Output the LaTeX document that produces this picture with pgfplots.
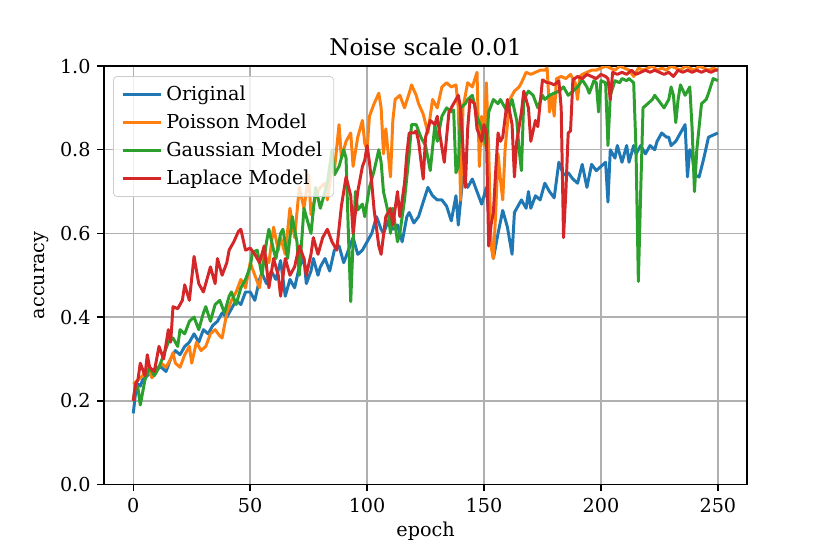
\documentclass[border=0pt]{standalone}
\usepackage{pgfplots}
\pgfplotsset{compat=1.18}
\usepackage{fontspec}
\setmainfont{DejaVu Serif}
\definecolor{c0}{HTML}{1F77B4}
\definecolor{c1}{HTML}{FF7F0E}
\definecolor{c2}{HTML}{2CA02C}
\definecolor{c3}{HTML}{D62728}
\definecolor{gridc}{HTML}{B0B0B0}
\begin{document}
\begin{tikzpicture}
\useasboundingbox (-54.2pt,-35.9pt) rectangle (378.2pt,252.4pt);
\begin{axis}[
  scale only axis, width=335pt, height=218pt,
  xmin=-12.5, xmax=262.5, ymin=0, ymax=1,
  xtick={0,50,100,150,200,250},
  ytick={0,0.2,0.4,0.6,0.8,1.0},
  yticklabel style={/pgf/number format/.cd,fixed,fixed zerofill,precision=1},
  /pgf/number format/assume math mode=true,
  tick pos=left, tick align=outside, major tick length=3.5pt,
  every tick/.style={black, line width=0.8pt},
  axis line style={line width=0.8pt},
  grid=major, major grid style={gridc, line width=0.8pt},
  title={Noise scale 0.01}, title style={font=\large, yshift=-4pt},
  xlabel={epoch}, ylabel={accuracy},
  xlabel style={yshift=2pt}, ylabel style={yshift=-1pt},
  legend style={at={(0.014,0.976)}, anchor=north west, draw=black!20, rounded corners=2pt, fill=white, fill opacity=0.8, text opacity=1, inner xsep=4pt, inner ysep=3pt, row sep=1.4pt, font=\normalsize},
  legend cell align=left,
  legend image code/.code={\draw[#1] (0pt,0pt) -- (20pt,0pt);},
  every axis plot/.append style={line width=1.55pt, line join=round},
]
\addplot[c0] coordinates {
(0,0.17)(1,0.22)(2,0.24)(3,0.235)(4,0.25)(6,0.26)(8,0.27)(10,0.28)(12,0.28)(14,0.27)(16,0.30)(18,0.32)(20,0.31)(22,0.33)(24,0.34)(26,0.36)(28,0.34)(30,0.37)(32,0.36)(34,0.38)(36,0.39)(38,0.41)(40,0.40)(42,0.42)(44,0.44)(46,0.43)(48,0.46)(50,0.46)(52,0.44)(54,0.49)(55,0.505)(57,0.48)(59,0.51)(61,0.49)(63,0.535)(65,0.45)(67,0.49)(69,0.47)(71,0.52)(73,0.54)(74,0.48)(76,0.51)(77,0.54)(79,0.50)(80,0.52)(82,0.54)(84,0.51)(86,0.56)(88,0.57)(90,0.53)(92,0.56)(94,0.59)(96,0.55)(98,0.56)(100,0.58)(102,0.60)(104,0.64)(106,0.61)(107,0.60)(109,0.63)(111,0.61)(113,0.62)(115,0.58)(117,0.64)(118,0.65)(120,0.625)(122,0.64)(124,0.675)(126,0.71)(128,0.69)(130,0.68)(132,0.68)(134,0.665)(136,0.63)(137,0.66)(138,0.69)(139,0.62)(140,0.68)(141,0.735)(143,0.71)(145,0.73)(147,0.70)(149,0.67)(151,0.71)(153,0.58)(154,0.54)(156,0.60)(158,0.655)(160,0.615)(162,0.55)(163,0.65)(165,0.67)(166,0.68)(168,0.66)(169,0.70)(170,0.66)(172,0.69)(174,0.68)(176,0.72)(178,0.70)(180,0.685)(182,0.77)(184,0.74)(186,0.745)(188,0.73)(190,0.72)(192,0.765)(194,0.71)(196,0.765)(198,0.75)(200,0.76)(202,0.77)(203,0.675)(204,0.80)(206,0.78)(207,0.81)(209,0.77)(211,0.81)(212,0.77)(214,0.81)(215,0.79)(217,0.81)(219,0.79)(221,0.81)(223,0.80)(224,0.82)(226,0.84)(228,0.83)(229,0.83)(230,0.81)(232,0.82)(234,0.84)(236,0.86)(237,0.735)(238,0.80)(239,0.79)(240,0.74)(242,0.735)(244,0.78)(246,0.83)(248,0.835)(250,0.84)
};
\addlegendentry{Original}
\addplot[c1] coordinates {
(0,0.24)(1,0.245)(2,0.25)(4,0.26)(6,0.28)(8,0.255)(10,0.27)(12,0.29)(14,0.28)(16,0.30)(17,0.315)(18,0.29)(20,0.28)(22,0.31)(24,0.33)(25,0.29)(27,0.34)(29,0.32)(31,0.33)(33,0.36)(35,0.37)(37,0.355)(38,0.35)(40,0.41)(42,0.44)(44,0.46)(46,0.49)(48,0.47)(50,0.53)(52,0.50)(54,0.47)(56,0.55)(58,0.53)(60,0.615)(62,0.56)(63,0.59)(65,0.55)(67,0.66)(69,0.59)(71,0.71)(73,0.66)(75,0.74)(76,0.645)(78,0.69)(80,0.71)(82,0.72)(83,0.68)(85,0.76)(86,0.75)(88,0.86)(89,0.78)(90,0.80)(91,0.82)(93,0.84)(94,0.76)(96,0.83)(98,0.87)(99,0.815)(100,0.80)(101,0.88)(103,0.91)(105,0.935)(106,0.90)(107,0.79)(108,0.85)(110,0.735)(111,0.87)(112,0.92)(114,0.93)(116,0.90)(118,0.935)(119,0.955)(121,0.93)(122,0.91)(124,0.885)(126,0.84)(128,0.92)(130,0.90)(132,0.95)(134,0.96)(136,0.95)(138,0.955)(139,0.90)(140,0.68)(141,0.90)(143,0.96)(145,0.95)(147,0.985)(148,0.76)(149,0.88)(150,0.81)(151,0.96)(152,0.80)(153,0.57)(154,0.54)(155,0.65)(156,0.79)(157,0.73)(158,0.68)(159,0.80)(161,0.92)(163,0.94)(165,0.95)(166,0.96)(168,0.985)(170,0.98)(172,0.985)(174,0.99)(176,0.99)(177,0.995)(178,0.89)(179,0.93)(180,0.88)(181,0.97)(183,0.975)(185,0.97)(187,0.98)(189,0.96)(190,0.92)(191,0.975)(192,0.98)(194,0.985)(196,0.99)(198,0.99)(200,0.995)(202,1.0)(204,0.995)(206,0.99)(208,1.0)(210,0.995)(212,0.99)(214,0.975)(216,0.995)(218,0.99)(220,0.995)(222,1.0)(224,0.99)(226,0.995)(228,0.99)(230,1.0)(232,0.995)(234,0.99)(236,1.0)(238,0.995)(240,0.99)(242,1.0)(244,0.995)(246,0.99)(248,0.995)(250,0.99)
};
\addlegendentry{Poisson Model}
\addplot[c2] coordinates {
(0,0.20)(1,0.24)(2,0.23)(3,0.19)(4,0.22)(5,0.25)(7,0.28)(9,0.26)(11,0.28)(13,0.31)(15,0.34)(17,0.35)(19,0.33)(20,0.37)(22,0.36)(24,0.39)(26,0.40)(28,0.37)(30,0.41)(31,0.425)(33,0.39)(35,0.43)(37,0.44)(39,0.41)(41,0.45)(42,0.46)(44,0.43)(46,0.47)(48,0.49)(50,0.52)(51,0.555)(53,0.56)(55,0.50)(57,0.58)(58,0.61)(60,0.56)(61,0.54)(63,0.60)(64,0.61)(66,0.54)(68,0.64)(70,0.58)(71,0.50)(73,0.66)(75,0.62)(76,0.60)(78,0.71)(80,0.66)(82,0.70)(83,0.72)(85,0.80)(86,0.74)(88,0.76)(90,0.80)(91,0.78)(92,0.60)(93,0.437)(94,0.58)(95,0.70)(96,0.656)(98,0.67)(99,0.64)(101,0.71)(103,0.75)(105,0.80)(106,0.77)(107,0.70)(109,0.65)(110,0.60)(111,0.66)(113,0.58)(114,0.60)(116,0.68)(118,0.79)(119,0.86)(121,0.86)(123,0.83)(125,0.81)(127,0.75)(129,0.86)(130,0.82)(132,0.88)(134,0.90)(136,0.89)(137,0.895)(138,0.745)(139,0.76)(140,0.90)(142,0.91)(143,0.92)(145,0.93)(147,0.88)(149,0.85)(151,0.81)(152,0.89)(154,0.92)(156,0.91)(157,0.92)(159,0.90)(160,0.89)(162,0.92)(164,0.87)(165,0.80)(166,0.75)(167,0.92)(169,0.94)(171,0.93)(173,0.90)(175,0.93)(176,0.92)(178,0.93)(180,0.935)(182,0.94)(184,0.95)(186,0.93)(188,0.94)(190,0.95)(192,0.967)(194,0.95)(195,0.935)(197,0.965)(198,0.96)(199,0.89)(200,0.965)(202,0.96)(203,0.81)(204,0.93)(206,0.965)(208,0.96)(209,0.97)(211,0.965)(212,0.97)(214,0.96)(215,0.80)(216,0.485)(217,0.70)(218,0.90)(220,0.91)(222,0.92)(223,0.93)(225,0.915)(227,0.90)(229,0.92)(230,0.95)(231,0.93)(232,0.865)(233,0.92)(234,0.955)(236,0.93)(238,0.95)(239,0.85)(240,0.70)(241,0.80)(243,0.91)(245,0.92)(246,0.935)(248,0.97)(250,0.965)
};
\addlegendentry{Gaussian Model}
\addplot[c3] coordinates {
(0,0.20)(1,0.24)(2,0.25)(3,0.29)(5,0.26)(6,0.31)(7,0.28)(9,0.27)(11,0.33)(13,0.30)(15,0.37)(16,0.34)(17,0.425)(19,0.42)(21,0.44)(22,0.477)(24,0.44)(26,0.545)(28,0.48)(30,0.46)(32,0.50)(33,0.52)(35,0.48)(36,0.54)(38,0.50)(40,0.53)(41,0.56)(43,0.58)(45,0.605)(46,0.61)(48,0.56)(50,0.565)(52,0.55)(54,0.53)(56,0.57)(58,0.47)(60,0.54)(62,0.50)(63,0.45)(65,0.54)(67,0.50)(69,0.52)(71,0.57)(73,0.54)(74,0.50)(76,0.55)(77,0.59)(79,0.55)(81,0.59)(83,0.61)(85,0.58)(87,0.56)(89,0.665)(91,0.735)(93,0.69)(94,0.60)(96,0.70)(98,0.76)(99,0.775)(100,0.81)(101,0.77)(102,0.72)(103,0.656)(105,0.57)(106,0.55)(108,0.64)(110,0.66)(111,0.62)(113,0.70)(114,0.64)(116,0.72)(117,0.79)(118,0.84)(120,0.84)(121,0.845)(122,0.82)(124,0.73)(125,0.83)(127,0.87)(129,0.86)(130,0.88)(131,0.84)(133,0.77)(135,0.89)(137,0.91)(139,0.93)(140,0.90)(142,0.71)(143,0.85)(144,0.92)(146,0.91)(147,0.85)(149,0.82)(150,0.86)(151,0.84)(152,0.57)(153,0.62)(154,0.65)(155,0.75)(156,0.84)(157,0.82)(158,0.83)(160,0.92)(162,0.86)(163,0.735)(164,0.82)(166,0.89)(167,0.94)(169,0.90)(170,0.82)(172,0.87)(173,0.855)(175,0.967)(177,0.96)(178,0.96)(180,0.955)(182,0.965)(183,0.90)(184,0.59)(185,0.70)(186,0.84)(187,0.845)(188,0.967)(190,0.975)(192,0.97)(194,0.98)(196,0.975)(198,0.97)(200,0.98)(202,0.975)(203,0.97)(204,0.92)(205,0.985)(207,0.98)(209,0.985)(211,0.98)(213,0.99)(215,0.98)(217,0.985)(219,0.99)(221,0.985)(223,0.99)(225,0.985)(227,0.98)(229,0.985)(231,0.975)(233,0.99)(235,0.985)(237,0.99)(239,0.985)(241,0.99)(243,0.985)(245,0.99)(247,0.985)(249,0.99)(250,0.99)
};
\addlegendentry{Laplace Model}
\end{axis}
\end{tikzpicture}
\end{document}
